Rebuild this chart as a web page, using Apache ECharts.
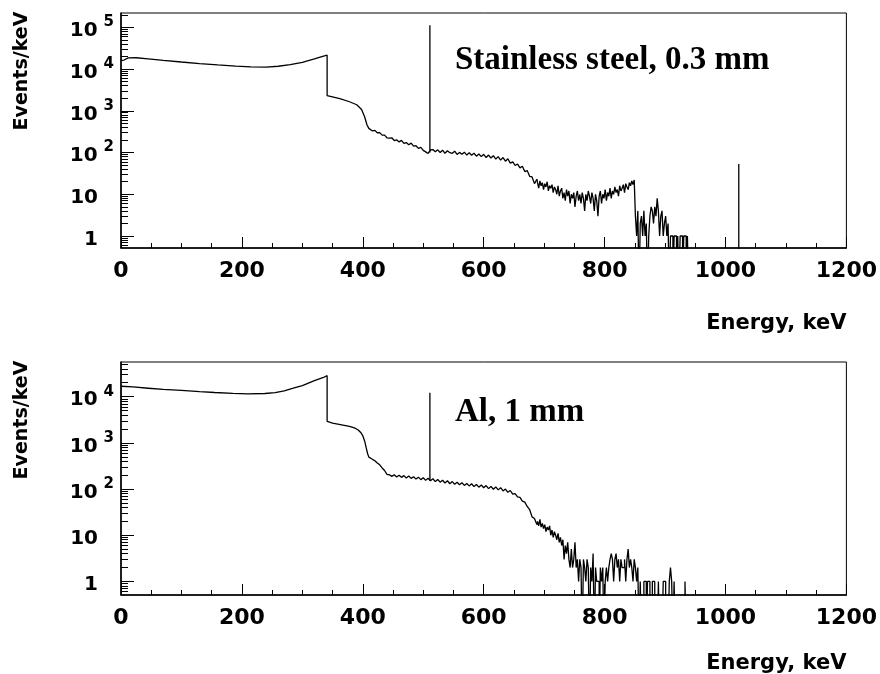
<!DOCTYPE html>
<html><head><meta charset="utf-8">
<script src="https://cdn.jsdelivr.net/npm/echarts@6/dist/echarts.min.js"></script>
<style>html,body{margin:0;padding:0;background:#fff}#c{width:880px;height:674px}</style>
</head><body><div id="c"></div>
<script>
// ---------- tick labels ----------
const xTickStep = 200;
const yMajorTicks = [1, 10, 100, 1000, 10000, 100000];
const yMinorTicks = [0.6,0.7,0.8,0.9, 2,3,4,5,6,7,8,9, 20,30,40,50,60,70,80,90,
  200,300,400,500,600,700,800,900, 2000,3000,4000,5000,6000,7000,8000,9000,
  20000,30000,40000,50000,60000,70000,80000,90000, 200000];

// ---------- Stainless steel, 0.3 mm ----------
const steelSmoothE = [0,5,12,25,45,70,100,130,160,190,215,240,260,280,300,320,335,341,341,362,378,390,398,403,407,410,412];
const steelSmoothC = [16000,16500,18500,18700,17600,16200,14800,13600,12600,11800,11300,11200,11700,12800,14500,17500,20500,21500,2300,1950,1650,1400,1080,720,456,380,370];
// 4 keV bins starting at 412 keV
const steelMid = [370,330,340,298,300,262,262,226,222,226,194,202,180,196,166,174,154,168,142,146,126,133,113,104,95,116,118,104,116,100,114,96,110,99,96,108,90,101,91,102,87,99,86,96,82,92,80,91,76,87,74,84,70,80,66,76,62,71,56,60,49,53,43,47,35,37,27,26,18,23];
// 2 keV bins starting at 690 keV
const steelTail = [19,14,21,16,19,13,18,15,20,12,16,14,17,11,15,13,10,16,9,12,14,8,11,7,13,9,12,6,10,8,11,5,9,12,7,10,6,11,8,4,10,7,12,9,6,11,8,4,10,7,3,9,12,6,10,8,13,7,11,9,14,8,12,10,15,11,13,9,16,12,14,17,11,18,15,13,19,16,21,17,22,
  3,1,4,0,2,3,1,4,1,2,0,1,3,5,4,2,5,3,8,4,1,3,4,1,2,3,1,2,0,1,1,0,1,1,0,1,0,1,1,0,1,1,0,1,0,0,0,0,0,0];
const steelLineE = [511, 1022];
const steelLineBase = [100, 0];
const steelLineTop = [113000, 53];

// ---------- Al, 1 mm ----------
const alSmoothE = [0,20,45,70,100,130,155,185,210,238,255,270,285,300,320,335,341,341,350,365,378,386,392,397,400,403,405.5,408,410,412];
const alSmoothC = [16800,16200,15200,14300,13600,12800,12300,11800,11500,11700,12200,13400,15200,17400,22200,26000,28400,2900,2670,2450,2270,2100,1920,1650,1430,1100,800,580,490,470];
const alMid = [470,440,410,366,334,286,252,208,204,188,204,183,199,179,195,174,191,170,185,164,181,160,175,154,171,151,167,145,161,141,155,135,151,130,145,127,140,124,137,120,132,117,130,113,125,110,122,107,119,102,114,99,111,96,107,91,100,85,93,78,80,68,66,55,52,42,36,25,23,17];
const alTail = [20,16,22,15,18,14,17,12,15,13,16,10,13,9,12,10,8,11,7,9,6,8,3,6,4,7,3,2,5,2,3,7,2,3,1,3,2,0,3,2,1,3,2,0,2,1,4,0,2,1,1,0,2,1,2,0,1,2,1,2,3,4,3,1,3,4,2,3,1,3,2,2,3,1,3,5,2,3,2,1,3,2,1,2,
  0,1,0,0,1,1,0,1,1,0,0,1,1,0,0,0,1,0,0,0,1,1,0,0,0,1,2,1,0,1,0,0,0,0,0,0,0,0,1,0,0,0,0,0,0,0,0];
const alLineE = [511];
const alLineBase = [150];
const alLineTop = [12100];

// ---------- helpers ----------
const FLOOR = 0.05; // empty bins are drawn below the axis minimum (clipped)
const v = c => (c > 0 ? c : FLOOR);
const pts = (E, C) => E.map((e, i) => [e, v(C[i])]);
const bins = (start, width, C) => C.map((c, i) => [start + i * width, v(c)]);
const black = {color:'#000', width:1.3};

function yFmt(val){
  const e = Math.round(Math.log10(val));
  if (e === 0) return '{b|1}{p| }';
  if (e === 1) return '{b|10}{p| }';
  return '{b|10}{s|' + e + '}';
}
const yRich = {
  b:{fontFamily:'DejaVu Sans', fontWeight:'bold', fontSize:20, color:'#000', lineHeight:22, verticalAlign:'bottom'},
  s:{fontFamily:'DejaVu Sans', fontWeight:'bold', fontSize:15, color:'#000', lineHeight:15, padding:[0,0,11,6], verticalAlign:'bottom'},
  p:{fontSize:15, width:16, lineHeight:15, padding:[0,0,11,0], verticalAlign:'bottom'}
};
function yMain(gi, min, max){
  return {type:'log', logBase:10, gridIndex:gi, min:min, max:max, position:'left',
    axisLine:{show:true, lineStyle:{color:'#000', width:1.5}},
    axisTick:{show:true, inside:true, length:13, customValues:yMajorTicks, lineStyle:{color:'#000'}},
    axisLabel:{show:true, customValues:yMajorTicks, margin:7, formatter:yFmt, rich:yRich, padding:[5,0,0,0]},
    splitLine:{show:false}, minorTick:{show:false}};
}
function yMinor(gi, min, max){
  return {type:'log', logBase:10, gridIndex:gi, min:min, max:max, position:'left', offset:0,
    axisLine:{show:false},
    axisTick:{show:true, inside:true, length:7, customValues:yMinorTicks, lineStyle:{color:'#000'}},
    axisLabel:{show:false}, splitLine:{show:false}};
}
function xAx(gi, nameTop){
  return {type:'value', gridIndex:gi, min:0, max:1200, interval:xTickStep,
    axisLine:{show:true, onZero:false, lineStyle:{color:'#000', width:1.5}},
    axisTick:{show:true, inside:true, length:11, lineStyle:{color:'#000'}},
    minorTick:{show:true, splitNumber:4, length:5, lineStyle:{color:'#000'}},
    axisLabel:{margin:12, fontFamily:'DejaVu Sans', fontWeight:'bold', fontSize:22, color:'#000',
      formatter: val => String(val)},
    splitLine:{show:false},
    name:'Energy, keV', nameLocation:'end', nameGap:0,
    nameTextStyle:{fontFamily:'DejaVu Sans', fontWeight:'bold', fontSize:21, color:'#000',
      align:'right', verticalAlign:'top', padding:[nameTop,0,0,0]}};
}
function lineSeries(xi, yi, data, step){
  return {type:'line', xAxisIndex:xi, yAxisIndex:yi, data:data, step:step || false,
    symbol:'none', lineStyle:black, clip:true, silent:true};
}
function peakSeries(xi, yi, E, base, top){
  return E.map((e, i) => lineSeries(xi, yi, [[e, v(base[i])], [e, top[i]]]));
}

const series = [
  lineSeries(0, 0, pts(steelSmoothE, steelSmoothC).concat(bins(412, 4, steelMid))),
  lineSeries(0, 0, bins(688, 4, [steelMid[steelMid.length - 1]]).concat(bins(690, 2, steelTail)), 'middle'),
  ...peakSeries(0, 0, steelLineE, steelLineBase, steelLineTop),
  lineSeries(1, 2, pts(alSmoothE, alSmoothC).concat(bins(412, 4, alMid))),
  lineSeries(1, 2, bins(688, 4, [alMid[alMid.length - 1]]).concat(bins(690, 2, alTail)), 'middle'),
  ...peakSeries(1, 2, alLineE, alLineBase, alLineTop)
];

const serif = {fontFamily:'Liberation Serif', fontWeight:'bold', fontSize:33, fill:'#000', align:'left', verticalAlign:'middle'};
const sans = {fontFamily:'DejaVu Sans', fontWeight:'bold', fontSize:19, fill:'#000', align:'center', verticalAlign:'middle'};

const option = {
  animation:false,
  backgroundColor:'#fff',
  grid:[
    {left:121, top:13, width:726, height:235, show:true, borderColor:'#000', borderWidth:1, backgroundColor:'transparent'},
    {left:121, top:362, width:726, height:236, show:true, borderColor:'#000', borderWidth:1, backgroundColor:'transparent'}
  ],
  xAxis:[xAx(0, 65), xAx(1, 58)],
  yAxis:[yMain(0, 0.516, 2.21e5), yMinor(0, 0.516, 2.21e5), yMain(1, 0.509, 5.62e4), yMinor(1, 0.509, 5.62e4)],
  series:series,
  graphic:[
    {type:'text', x:22, y:71, rotation:Math.PI/2, style:Object.assign({text:'Events/keV'}, sans)},
    {type:'text', x:22, y:420, rotation:Math.PI/2, style:Object.assign({text:'Events/keV'}, sans)},
    {type:'text', x:455, y:60, style:Object.assign({text:'Stainless steel, 0.3 mm'}, serif)},
    {type:'text', x:455, y:412, style:Object.assign({text:'Al, 1 mm'}, serif)}
  ]
};
const chart = echarts.init(document.getElementById('c'), null, {renderer:'canvas'});
chart.setOption(option);
</script>
</body></html>
